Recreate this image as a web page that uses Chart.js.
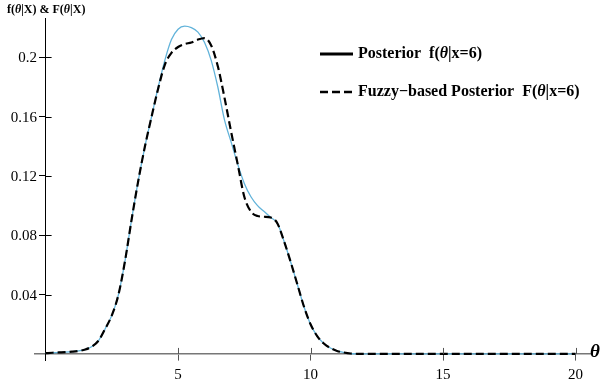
<!DOCTYPE html>
<html>
<head>
<meta charset="utf-8">
<script src="https://cdn.jsdelivr.net/npm/chart.js@4/dist/chart.umd.min.js"></script>
<style>
  html, body { margin: 0; padding: 0; background: #fff; }
  #wrap { width: 600px; height: 381px; }
</style>
</head>
<body>
<div id="wrap"><canvas id="chartCanvas" width="600" height="381"></canvas></div>
<script>
// theta grid and the two posterior densities
const theta = [0, 0.25, 0.5, 0.75, 1, 1.25, 1.5, 1.75, 2, 2.25, 2.5, 2.75, 3, 3.25, 3.5, 3.75,
  4, 4.25, 4.5, 4.75, 5, 5.25, 5.5, 5.75, 6, 6.25, 6.5, 6.75, 7, 7.25, 7.5, 7.75,
  8, 8.25, 8.5, 8.75, 9, 9.25, 9.5, 9.75, 10, 10.25, 10.5, 10.75, 11, 11.25, 11.5, 11.75,
  12, 14, 16, 18, 20];

const posterior = [0.0005, 0.0008, 0.001, 0.0012, 0.0015, 0.002, 0.003, 0.005, 0.009, 0.017, 0.026, 0.040, 0.063, 0.091, 0.117, 0.140,
  0.160, 0.180, 0.198, 0.212, 0.219, 0.221, 0.220, 0.217, 0.210, 0.198, 0.180, 0.158, 0.143, 0.128, 0.115, 0.106,
  0.100, 0.096, 0.092, 0.088, 0.076, 0.062, 0.047, 0.032, 0.020, 0.012, 0.007, 0.004, 0.002, 0.001, 0.0003, 0.0001,
  0, 0, 0, 0, 0];

const fuzzyPosterior = [0.0005, 0.0008, 0.001, 0.0012, 0.0015, 0.002, 0.003, 0.005, 0.009, 0.017, 0.026, 0.040, 0.063, 0.091, 0.117, 0.140,
  0.160, 0.179, 0.195, 0.203, 0.207, 0.209, 0.210, 0.212, 0.213, 0.208, 0.194, 0.173, 0.150, 0.128, 0.106, 0.096,
  0.093, 0.0925, 0.092, 0.088, 0.076, 0.062, 0.047, 0.032, 0.020, 0.012, 0.007, 0.004, 0.002, 0.001, 0.0003, 0.0001,
  0, 0, 0, 0, 0];

const xTicks = [5, 10, 15, 20];
const yTicks = [0.04, 0.08, 0.12, 0.16, 0.2];
const yTickLabels = ['0.04', '0.08', '0.12', '0.16', '0.2'];

const serif = "'Liberation Serif', 'Times New Roman', serif";

function pts(ys) {
  return theta.map((t, i) => ({ x: t, y: ys[i] }));
}

// draws a run of text pieces, each with its own font
function drawRich(ctx, x, y, parts) {
  parts.forEach(([txt, font]) => {
    ctx.font = font;
    ctx.fillText(txt, x, y);
    x += ctx.measureText(txt).width;
  });
}

const extras = {
  id: 'extras',
  afterDraw(chart) {
    const ctx = chart.ctx;
    const xs = chart.scales.x, ys = chart.scales.y;
    const x0 = xs.getPixelForValue(0);
    const y0 = ys.getPixelForValue(0);
    ctx.save();

    // inner half of the tick marks
    ctx.lineWidth = 1;
    ctx.strokeStyle = '#000';
    yTicks.forEach(v => {
      const py = Math.round(ys.getPixelForValue(v)) + 0.5;
      ctx.beginPath(); ctx.moveTo(x0, py); ctx.lineTo(x0 + 6, py); ctx.stroke();
    });
    ctx.strokeStyle = '#555';
    xTicks.forEach(v => {
      const px = Math.round(xs.getPixelForValue(v)) + 0.5;
      ctx.beginPath(); ctx.moveTo(px, y0); ctx.lineTo(px, y0 - 6); ctx.stroke();
    });

    ctx.fillStyle = '#000';
    ctx.textBaseline = 'middle';

    // y tick labels, left of the axis
    ctx.textAlign = 'right';
    ctx.font = '15px ' + serif;
    yTicks.forEach((v, i) => {
      ctx.fillText(yTickLabels[i], x0 - 8.5, ys.getPixelForValue(v) + 1);
    });

    ctx.textAlign = 'left';

    // axis captions
    const t = 'bold 12px ' + serif, ti = 'italic bold 12px ' + serif;
    drawRich(ctx, 7, 10, [['f(', t], ['θ', ti], ['|X) & F(', t], ['θ', ti], ['|X)', t]]);
    drawRich(ctx, 590, 352, [['θ', 'italic bold 19px ' + serif]]);

    // legend
    const lx = 320, lw = 33;
    ctx.strokeStyle = '#000';
    ctx.lineWidth = 3;
    ctx.beginPath(); ctx.moveTo(lx, 54); ctx.lineTo(lx + lw, 54); ctx.stroke();
    ctx.lineWidth = 2.6;
    ctx.setLineDash([8, 4]);
    ctx.beginPath(); ctx.moveTo(lx, 92); ctx.lineTo(lx + lw + 2, 92); ctx.stroke();
    ctx.setLineDash([]);
    const b = 'bold 16px ' + serif, bi = 'italic bold 16px ' + serif;
    drawRich(ctx, 358, 54, [['Posterior  f(', b], ['θ', bi], ['|x=6)', b]]);
    drawRich(ctx, 358, 92, [['Fuzzy\u2212based Posterior  F(', b], ['θ', bi], ['|x=6)', b]]);
    ctx.restore();
  }
};

const ctx = document.getElementById('chartCanvas').getContext('2d');

new Chart(ctx, {
  type: 'line',
  data: {
    datasets: [
      {
        label: 'Posterior f(θ|x=6)',
        data: pts(posterior),
        borderColor: '#62b3da',
        borderWidth: 1.3,
        pointRadius: 0,
        cubicInterpolationMode: 'monotone',
        fill: false,
        order: 2
      },
      {
        label: 'Fuzzy-based Posterior F(θ|x=6)',
        data: pts(fuzzyPosterior),
        borderColor: '#000',
        borderWidth: 2.2,
        borderDash: [8, 4],
        pointRadius: 0,
        cubicInterpolationMode: 'monotone',
        fill: false,
        order: 1
      }
    ]
  },
  options: {
    responsive: false,
    animation: false,
    layout: { padding: { left: 35, right: 8.6, top: 18.8, bottom: 20.4 } },
    plugins: {
      legend: { display: false },
      tooltip: { enabled: false }
    },
    scales: {
      x: {
        type: 'linear',
        position: { y: 0 },
        min: -0.4,
        max: 20.6,
        afterBuildTicks: s => { s.ticks = xTicks.map(v => ({ value: v })); },
        ticks: { color: '#000', padding: 6, font: { family: serif, size: 15 } },
        grid: { drawOnChartArea: false, tickLength: 6, color: '#555' },
        border: { color: '#777', width: 1.6 }
      },
      y: {
        type: 'linear',
        position: { x: 0 },
        min: -0.0045,
        max: 0.226,
        afterBuildTicks: s => { s.ticks = yTicks.map(v => ({ value: v })); },
        ticks: { display: false },
        grid: { drawOnChartArea: false, tickLength: 6, color: '#000' },
        border: { color: '#000', width: 1 }
      }
    }
  },
  plugins: [extras]
});
</script>
</body>
</html>
